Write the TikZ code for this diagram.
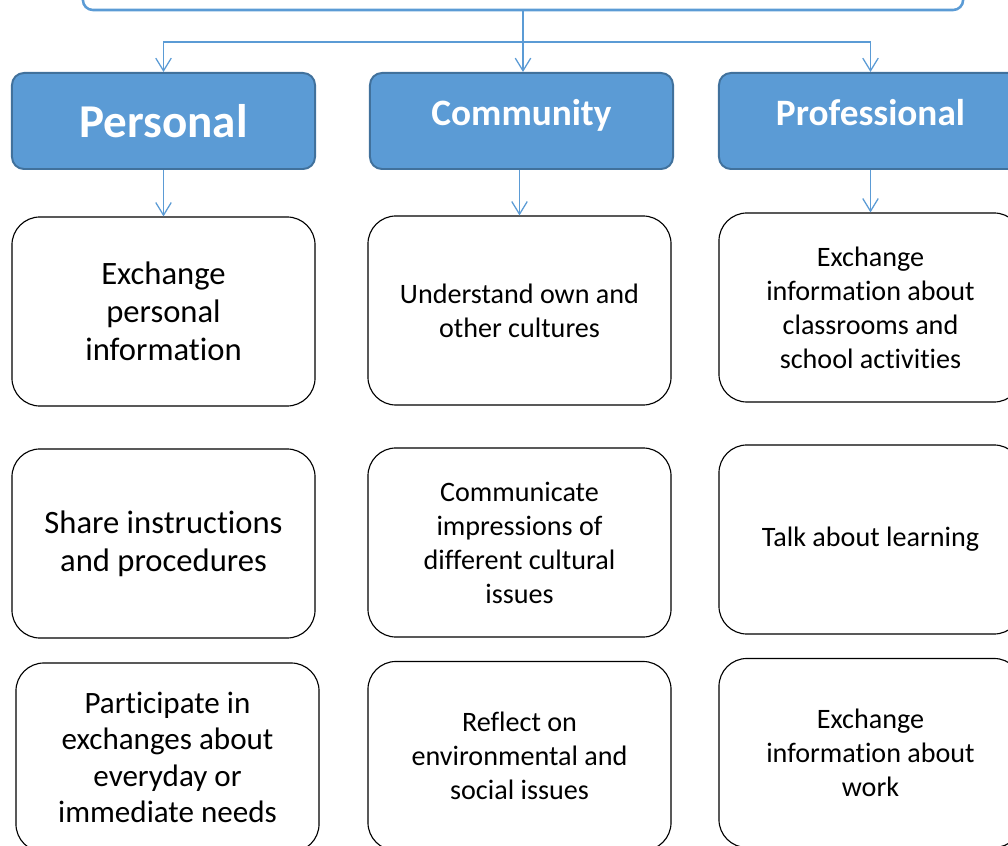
\documentclass[tikz,border=0pt]{standalone}
\usepackage{fontspec}
\setmainfont{Carlito}[Ligatures={NoCommon}]
\usetikzlibrary{arrows.meta}
\definecolor{hdrblue}{HTML}{5B9BD5}
\definecolor{hdredge}{HTML}{41719C}
\begin{document}
\begin{tikzpicture}[x=0.025cm,y=-0.025cm,
  hdr/.style={draw=hdredge,fill=hdrblue,line width=1.4pt,rounded corners=0.3cm,minimum width=7.575cm,minimum height=2.4cm,text=white,font=\bfseries\fontsize{26.5}{30}\selectfont},
  item/.style={draw=black,line width=0.8pt,rounded corners=0.7cm,minimum width=7.575cm,minimum height=4.725cm,align=center,inner sep=0pt},
  big/.style={font=\fontsize{23.2}{27}\selectfont},
  small/.style={font=\fontsize{20}{24.2}\selectfont},
  arr/.style={draw=hdrblue,line width=0.9pt,-{Straight Barb[length=9pt,width=11pt]}}]
\useasboundingbox (0,0) rectangle (1008,846);
\clip (0,0) rectangle (1008,846);

%TOP
  \node (top) at (523,-15) [draw=hdrblue,line width=1.8pt,rounded corners=0.25cm,minimum width=22cm,minimum height=1.25cm] {};
  \coordinate (split) at (523,42);

%HEADERS
  \node (pers) at (163.5,121) [hdr,font=\bfseries\fontsize{33.5}{38}\selectfont] {Personal};
  \node (comm) at (521.5,121) [hdr,text depth=12pt] {Community};
  \node (prof) at (870.5,121) [hdr,text depth=12pt] {Professional};

  \draw[draw=hdrblue,line width=0.9pt] (top.south) -- (split);
  \draw[arr] (split) -| (pers.north);
  \draw[arr] (split) -- (split |- comm.north);
  \draw[arr] (split) -| (prof.north);

%PERSONAL
  \node (p1) at (163.5,311.5) [item,big] {Exchange\\personal\\information};
  \node (p2) at (163.5,543.5) [item,big] {Share instructions\\and procedures};
  \node (p3) at (167.5,757.5) [item,font=\fontsize{22.1}{25.8}\selectfont] {Participate in\\exchanges about\\everyday or\\immediate needs};

%COMMUNITY
  \node (c1) at (519.5,310.5) [item,small] {Understand own and\\other cultures};
  \node (c2) at (519.5,542.5) [item,small] {Communicate\\impressions of\\different cultural\\issues};
  \node (c3) at (519.5,756) [item,small] {Reflect on\\environmental and\\social issues};

%PROFESSIONAL
  \node (f1) at (870.5,307.5) [item,small] {Exchange\\information about\\classrooms and\\school activities};
  \node (f2) at (870.5,539.5) [item,small] {Talk about learning};
  \node (f3) at (870.5,753) [item,small] {Exchange\\information about\\work};

  \draw[arr] (pers.south) -- (p1.north);
  \draw[arr] (c1.north |- comm.south) -- (c1.north);
  \draw[arr] (prof.south) -- (f1.north);
\end{tikzpicture}
\end{document}
